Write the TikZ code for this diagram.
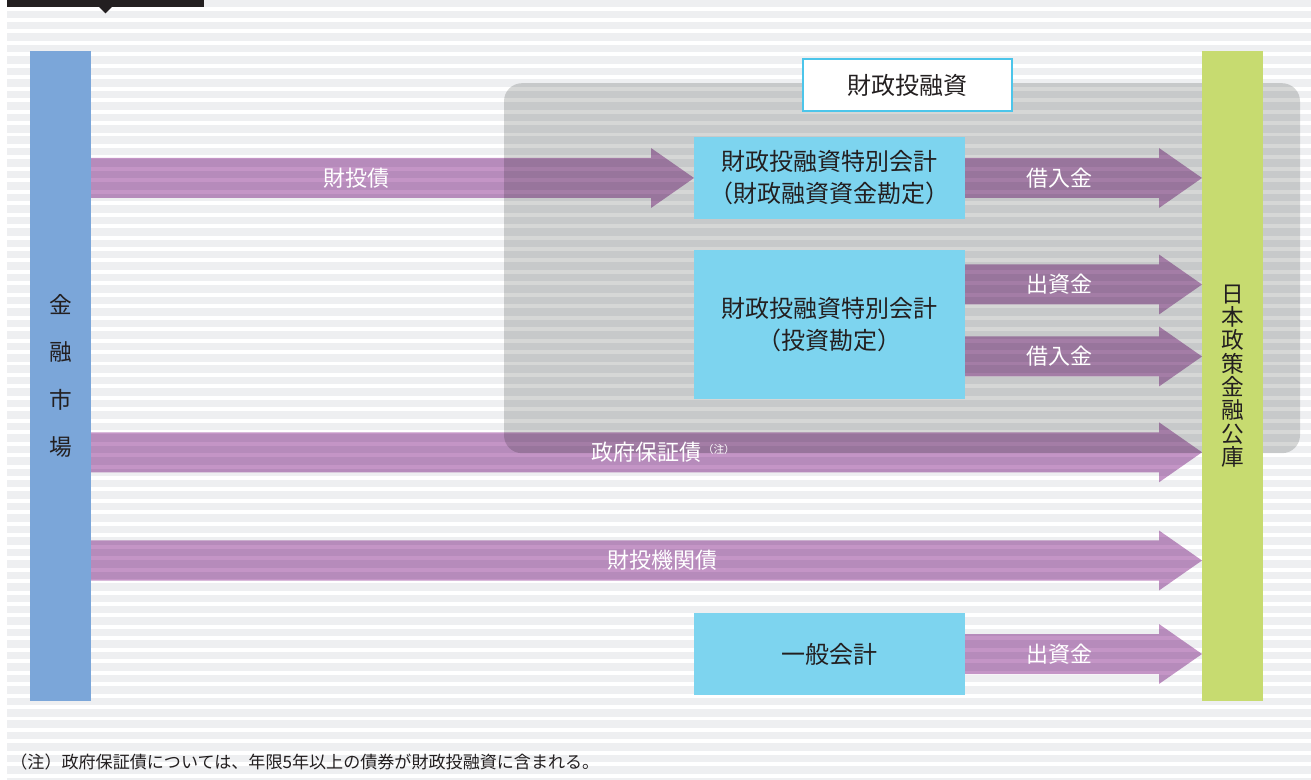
\documentclass[tikz,border=0pt]{standalone}
\usepackage{fontspec}
\setmainfont{Noto Sans CJK JP}
\usepackage{xcolor}
\usepackage{tikz}
\usetikzlibrary{calc}
\definecolor{stripegray}{RGB}{238,239,241}
\definecolor{panelgray}{RGB}{214,215,214}
\definecolor{flowpurple}{RGB}{196,149,198}
\definecolor{marketblue}{RGB}{123,166,217}
\definecolor{jfcgreen}{RGB}{199,219,112}
\definecolor{accountcyan}{RGB}{125,212,239}
\definecolor{framecyan}{RGB}{76,197,234}
\definecolor{inkgray}{RGB}{35,31,32}
\tikzset{
    bar/.style = {
        minimum width  = 45.75pt,
        minimum height = 487.5pt,
        inner sep      = 0pt,
        align          = center,
        text           = inkgray,
    },
    account/.style = {
        fill           = accountcyan,
        minimum width  = 203.25pt,
        minimum height = 61.5pt,
        inner sep      = 0pt,
        align          = center,
        text           = inkgray,
        font           = \fontsize{18}{24}\selectfont,
    },
    flow/.style = {
        fill = flowpurple,
    },
    flowlabel/.style = {
        text = white,
        font = \fontsize{16.5}{20}\selectfont,
    },
}
% block arrow from #1 to #2, label #4 at fraction #3
\newcommand{\fatarrow}[4]{%
    \begin{scope}[blend mode = multiply]
        \fill [flow] let \p1 = (#1), \p2 = (#2) in
            (\x1, \y1 + 15pt) -- (\x2 - 32.25pt, \y1 + 15pt) -- (\x2 - 32.25pt, \y1 + 22.5pt) -- (\x2, \y1)
            -- (\x2 - 32.25pt, \y1 - 22.5pt) -- (\x2 - 32.25pt, \y1 - 15pt) -- (\x1, \y1 - 15pt) -- cycle;
    \end{scope}
    \node [flowlabel] at ($(#1)!#3!(#2)$) {#4};
}

\begin{document}
\begin{tikzpicture}[x = 0.75pt, y = -0.75pt, every node/.style = {outer sep = 0pt}]
        \useasboundingbox (0, 0) rectangle (1311, 780);

        % striped background
        \foreach \k in {0,...,68} {
            \fill [stripegray] (7, -0.9 + 11.45*\k) rectangle (1311, 6.6 + 11.45*\k);
        }
        \fill [inkgray] (7, -2) rectangle (204, 7);
        \fill [inkgray] (99, 7) -- (105.5, 13.5) -- (112, 7) -- cycle;

        \begin{scope}[blend mode = multiply]
            \node at (902, 268.2) (fiscal) [fill = panelgray, rounded corners = 13.5pt, minimum width = 597pt, minimum height = 277.5pt] {};
        \end{scope}

        \node at (60.5, 376) (market) [bar, fill = marketblue, font = \fontsize{17}{35.5}\selectfont] {金\\融\\市\\場};
        \node at (1232.5, 376) (jfc) [bar, fill = jfcgreen, font = \fontsize{17}{17.5}\selectfont] {日\\本\\政\\策\\金\\融\\公\\庫};

        \node at (907.5, 85) (fiscalloan) [draw = framecyan, line width = 1.5pt, fill = white, minimum width = 156.75pt, minimum height = 39pt, text = inkgray, font = \fontsize{18}{20}\selectfont] {財政投融資};

        \node at (829.5, 178) (acc1) [account] {財政投融資特別会計\\（財政融資資金勘定）};
        \node at (829.5, 324.5) (acc2) [account, minimum height = 111.75pt] {財政投融資特別会計\\（投資勘定）};
        \node at (829.5, 654) (general) [account] {一般会計};

        \coordinate (invest row) at (0, 284.5);
        \coordinate (loan row) at (0, 356.5);
        \coordinate (guarantee) at (0, 452.3);
        \coordinate (agencybond) at (0, 560.5);

        \fatarrow{market.east |- acc1.west}{acc1.west}{0.441}{財投債}
        \fatarrow{acc1.east}{jfc.west |- acc1.east}{0.40}{借入金}
        \fatarrow{acc2.east |- invest row}{jfc.west |- invest row}{0.40}{出資金}
        \fatarrow{acc2.east |- loan row}{jfc.west |- loan row}{0.40}{借入金}
        \fatarrow{market.east |- guarantee}{jfc.west |- guarantee}{0.515}{政府保証債\hspace{1pt}\raisebox{5.5pt}{\fontsize{8}{8}\selectfont （注）}}
        \fatarrow{market.east |- agencybond}{jfc.west |- agencybond}{0.514}{財投機関債}
        \fatarrow{general.east}{jfc.west |- general.east}{0.40}{出資金}

        \node at (10.4, 762) (note) [anchor = west, inner sep = 0pt, text = inkgray, font = \fontsize{12.8}{14}\selectfont] {（注）政府保証債については、年限5年以上の債券が財政投融資に含まれる。};

    \end{tikzpicture}
\end{document}
